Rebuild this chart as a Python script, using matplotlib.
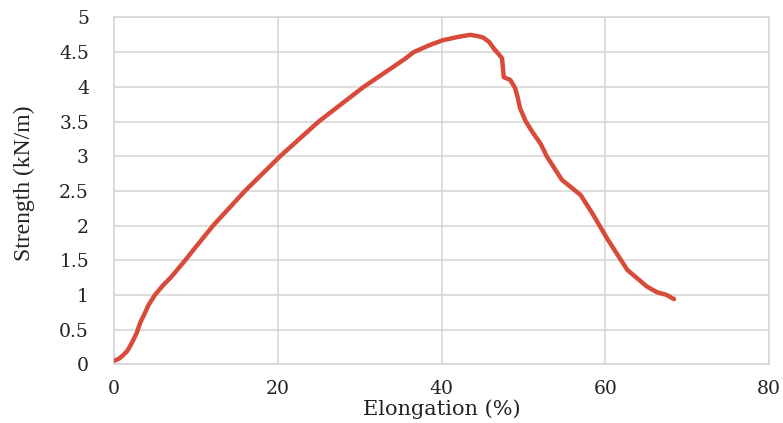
import matplotlib
matplotlib.use("Agg")
import matplotlib.pyplot as plt

# Data
elongation = [0, 0.6, 1.1, 1.6, 2.0, 2.4, 2.8, 3.2, 3.7, 4.2, 5.0, 6.0, 7.0, 8.7, 9.5,
              12.1, 16.0, 20.3, 25.0, 30.5, 33.0, 35.5, 36.6, 38.5, 40.1, 42.0, 43.5,
              44.5, 45.1, 45.8, 46.4, 47.0, 47.4, 47.6, 48.4, 49.0, 49.3, 49.6, 50.3,
              51.1, 52.1, 52.9, 54.7, 57.0, 58.4, 60.3, 62.7, 65.1, 66.3, 67.5, 68.4]
strength = [0.05, 0.08, 0.13, 0.19, 0.27, 0.36, 0.46, 0.60, 0.72, 0.85, 1.00, 1.14, 1.26,
            1.50, 1.62, 2.00, 2.50, 3.00, 3.50, 4.00, 4.20, 4.40, 4.50, 4.60, 4.67, 4.72,
            4.75, 4.73, 4.71, 4.65, 4.55, 4.47, 4.41, 4.14, 4.10, 3.98, 3.85, 3.69, 3.50,
            3.35, 3.18, 2.99, 2.66, 2.44, 2.18, 1.80, 1.36, 1.12, 1.04, 1.00, 0.94]
x_ticks = [0, 20, 40, 60, 80]
y_ticks = [0, 0.5, 1, 1.5, 2, 2.5, 3, 3.5, 4, 4.5, 5]
y_tick_labels = ["0", "0.5", "1", "1.5", "2", "2.5", "3", "3.5", "4", "4.5", "5"]

W, H = 783, 423
fig = plt.figure(figsize=(W / 100, H / 100), dpi=100)
ax = fig.add_axes([114 / W, 1 - 364.3 / H, (769 - 114) / W, (364.3 - 17.5) / H])

grid_c = "#D4D4D4"
ax.plot(elongation, strength, color="#D84B3A", linewidth=3.2, solid_capstyle="round",
        solid_joinstyle="round", zorder=3)

ax.set_xlim(0, 80)
ax.set_ylim(0, 5)
ax.set_xticks(x_ticks)
ax.set_yticks(y_ticks)
ax.set_yticklabels(y_tick_labels)
ax.grid(True, color=grid_c, linewidth=1.1)
ax.set_axisbelow(True)
for s in ax.spines.values():
    s.set_color(grid_c)
    s.set_linewidth(1.1)

for lab in ax.get_xticklabels() + ax.get_yticklabels():
    lab.set_fontfamily("DejaVu Serif")
    lab.set_fontsize(13.5)
    lab.set_color("#222222")
ax.tick_params(axis="both", length=0)
ax.tick_params(axis="y", pad=18)
ax.tick_params(axis="x", pad=11)

ax.set_xlabel("Elongation (%)", fontfamily="DejaVu Serif", fontsize=15, color="#222222",
              labelpad=1)
fig.text(24 / W, 1 - 183 / H, "Strength (kN/m)", rotation=90, ha="center", va="center",
         fontfamily="Liberation Serif", fontsize=17, color="#222222")

fig.savefig("out.png", dpi=100, facecolor="white")
